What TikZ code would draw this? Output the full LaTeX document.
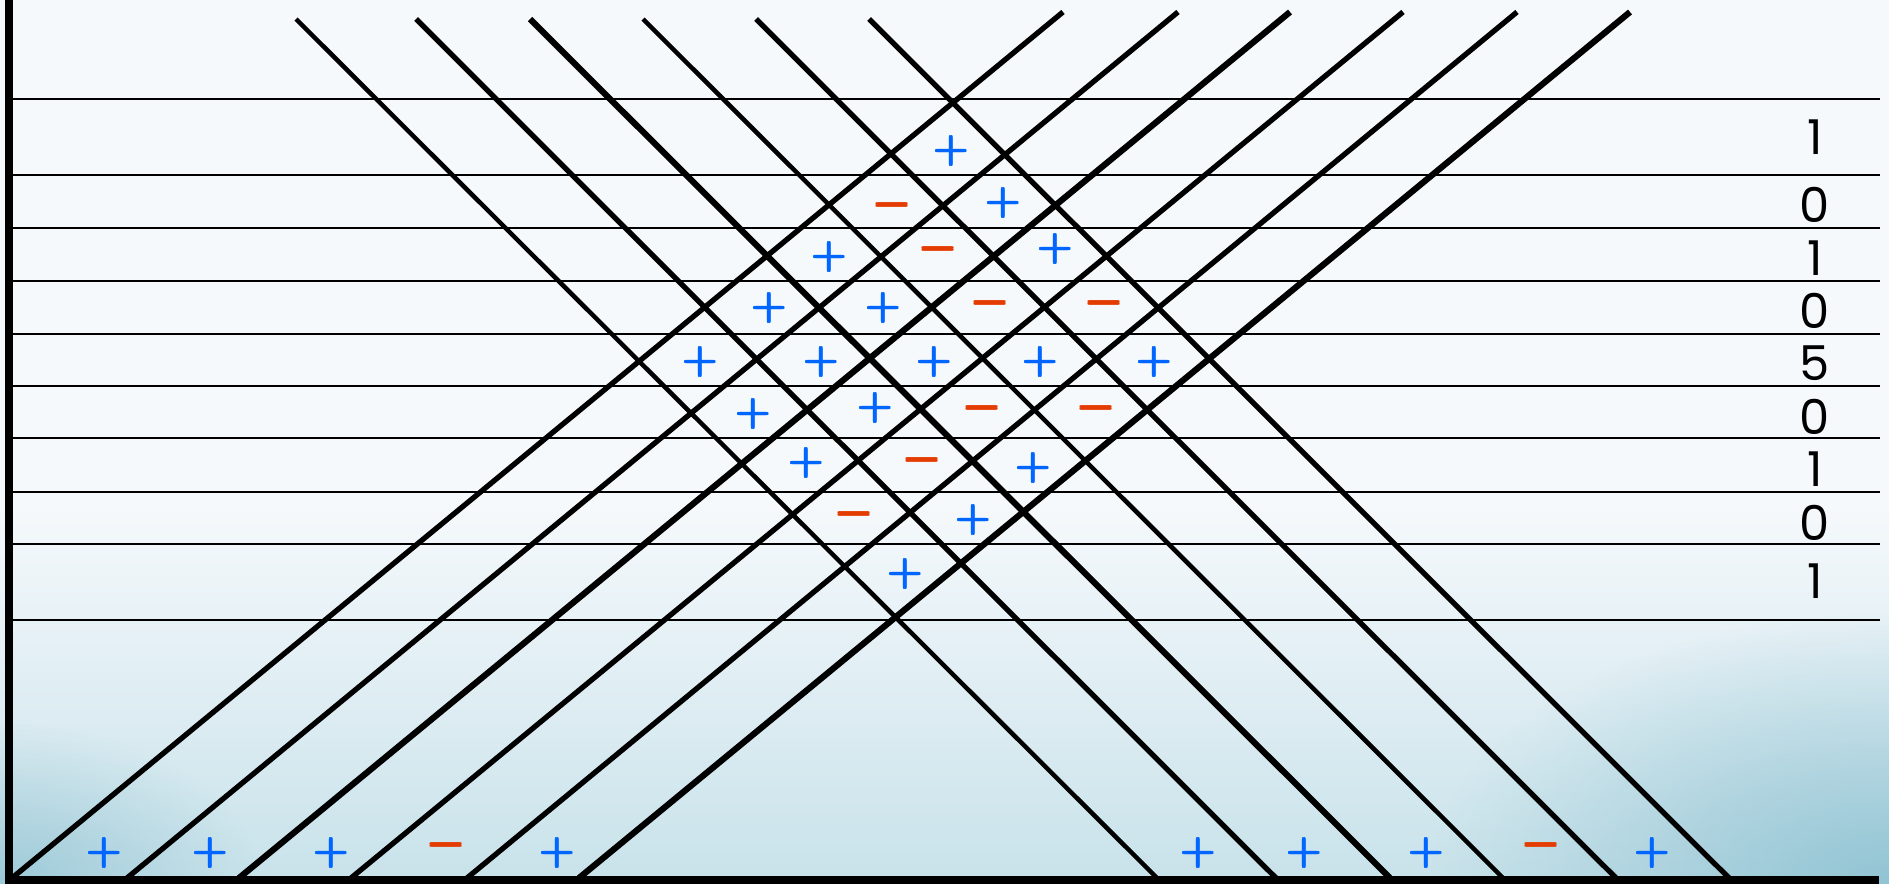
\RequirePackage{fix-cm}
\documentclass[tikz,border=0pt]{standalone}
\usepackage{fontspec}
\newfontfamily\numfont{Poppins}
\usetikzlibrary{fadings}
\definecolor{plusblue}{RGB}{0,102,255}
\definecolor{minusred}{RGB}{228,60,0}
\definecolor{bgtop}{RGB}{246,249,252}
\definecolor{bgbottom}{RGB}{200,226,234}
\definecolor{bgcorner}{RGB}{128,186,204}
\tikzfading[name=softedge, inner color=transparent!0, outer color=transparent!100]
% overprinted sign, a little heavier than the font gives
\newcommand{\heavyplus}{\rlap{$+$}\rlap{\kern1.5pt$+$}\rlap{\raise1.5pt\hbox{$+$}}\rlap{\kern1.5pt\raise1.5pt\hbox{$+$}}\phantom{$+$}}
\newcommand{\heavyminus}{\rlap{$-$}\rlap{\raise1.4pt\hbox{$-$}}\phantom{$-$}}
\tikzset{
  ray/.style={line width=5.3pt},
  raylight/.style={line width=4.5pt},
  rayheavy/.style={line width=6.2pt},
  hline/.style={line width=2pt},
  axisline/.style={line width=7.5pt},
  possign/.style={text=plusblue, font=\fontsize{40}{40}\selectfont\boldmath, inner sep=0pt},
  negsign/.style={text=minusred, font=\fontsize{46}{46}\selectfont\boldmath, inner sep=0pt},
  digit/.style={font=\numfont\fontsize{48}{48}\selectfont, inner sep=0pt}
}
\begin{document}
\begin{tikzpicture}[x=1pt,y=-1pt]
	\useasboundingbox (0,0) rectangle (1889,883);
	% background
	\fill[bgtop] (0,0) rectangle (1889,883);
	\shade[top color=bgtop, bottom color=bgbottom] (0,500) rectangle (1889,883);
	\fill[bgcorner, path fading=softedge, fill opacity=0.6] (0,883) ellipse (260 and 160);
	\fill[bgcorner, path fading=softedge, fill opacity=0.75] (1889,883) ellipse (460 and 270);
	% levels
	\draw[hline] (12,99) -- (1880,99) (12,175) -- (1880,175) (12,228) -- (1880,228)
		(12,281) -- (1880,281) (12,334) -- (1880,334) (12,386) -- (1880,386)
		(12,438) -- (1880,438) (12,492) -- (1880,492) (12,544) -- (1880,544)
		(12,620) -- (1880,620);
	% rays going down
	\draw[raylight] (296,19) -- (1157,878);
	\draw[ray] (416,19) -- (1276,878);
	\draw[rayheavy] (530,19) -- (1390,878);
	\draw[raylight] (643,19) -- (1503,878);
	\draw[ray] (756,19) -- (1616,878);
	\draw[ray] (869,19) -- (1729,878);
	% rays going up
	\draw[ray] (12,878) -- (1063,12);
	\draw[ray] (127,878) -- (1178,12);
	\draw[rayheavy] (239,878) -- (1290,12);
	\draw[ray] (351,878) -- (1403,12);
	\draw[ray] (467,878) -- (1517,12);
	\draw[rayheavy] (579,878) -- (1630,12);
	% axes
	\draw[axisline] (8.8,0) -- (8.8,883);
	\draw[axisline] (5,880) -- (1879,880);
	% signs in the lattice
	\node[possign] (r1c1) at (950,151) {\heavyplus};
	\node[negsign] (r2c1) at (892,205) {\heavyminus};
	\node[possign] (r2c2) at (1002,203) {\heavyplus};
	\node[possign] (r3c1) at (828,257) {\heavyplus};
	\node[negsign] (r3c2) at (938,249) {\heavyminus};
	\node[possign] (r3c3) at (1054,249) {\heavyplus};
	\node[possign] (r4c1) at (768,308) {\heavyplus};
	\node[possign] (r4c2) at (882,308) {\heavyplus};
	\node[negsign] (r4c3) at (990,303) {\heavyminus};
	\node[negsign] (r4c4) at (1104,303) {\heavyminus};
	\node[possign] (r5c1) at (699,362) {\heavyplus};
	\node[possign] (r5c2) at (820,362) {\heavyplus};
	\node[possign] (r5c3) at (933,362) {\heavyplus};
	\node[possign] (r5c4) at (1039,362) {\heavyplus};
	\node[possign] (r5c5) at (1153,362) {\heavyplus};
	\node[possign] (r6c1) at (752,414) {\heavyplus};
	\node[possign] (r6c2) at (874,408) {\heavyplus};
	\node[negsign] (r6c3) at (982,408) {\heavyminus};
	\node[negsign] (r6c4) at (1096,408) {\heavyminus};
	\node[possign] (r7c1) at (805,463) {\heavyplus};
	\node[negsign] (r7c2) at (922,460) {\heavyminus};
	\node[possign] (r7c3) at (1032,468) {\heavyplus};
	\node[negsign] (r8c1) at (854,514) {\heavyminus};
	\node[possign] (r8c2) at (972,520) {\heavyplus};
	\node[possign] (r9c1) at (904,574) {\heavyplus};
	% signs at the bottom
	\node[possign] (b1) at (103,853) {\heavyplus};
	\node[possign] (b2) at (209,853) {\heavyplus};
	\node[possign] (b3) at (330,853) {\heavyplus};
	\node[negsign] (b4) at (446,845) {\heavyminus};
	\node[possign] (b5) at (556,853) {\heavyplus};
	\node[possign] (b6) at (1197,853) {\heavyplus};
	\node[possign] (b7) at (1303,853) {\heavyplus};
	\node[possign] (b8) at (1425,853) {\heavyplus};
	\node[negsign] (b9) at (1541,845) {\heavyminus};
	\node[possign] (b10) at (1651,853) {\heavyplus};
	% sums
	\node[digit] (d1) at (1815,137) {1};
	\node[digit] (d2) at (1815,205) {0};
	\node[digit] (d3) at (1815,258) {1};
	\node[digit] (d4) at (1815,311) {0};
	\node[digit] (d5) at (1815,363) {5};
	\node[digit] (d6) at (1815,417) {0};
	\node[digit] (d7) at (1815,469) {1};
	\node[digit] (d8) at (1815,523) {0};
	\node[digit] (d9) at (1815,581) {1};
\end{tikzpicture}
\end{document}
